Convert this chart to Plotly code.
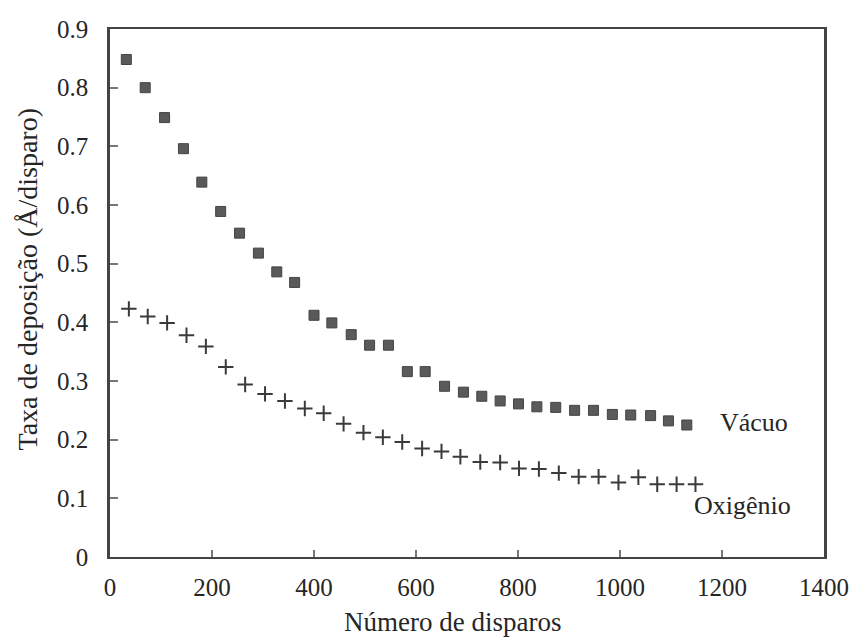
import plotly.graph_objects as go

vacuo_x = [32, 69, 107, 144, 180, 217, 254, 291, 327, 362, 400, 435, 473, 509, 546,
           583, 618, 656, 693, 729, 765, 801, 837, 874, 911, 948, 985, 1021, 1060, 1095, 1131]
vacuo_y = [0.848, 0.800, 0.749, 0.696, 0.639, 0.589, 0.552, 0.518, 0.486, 0.468, 0.412,
           0.399, 0.379, 0.361, 0.361, 0.316, 0.316, 0.291, 0.281, 0.274, 0.266, 0.261,
           0.256, 0.255, 0.250, 0.250, 0.243, 0.242, 0.241, 0.232, 0.225]

oxig_x = [37, 74, 112, 150, 188, 227, 265, 304, 343, 382, 419, 458, 497, 535, 573,
          612, 650, 687, 726, 765, 802, 841, 880, 919, 958, 997, 1036, 1073, 1111, 1148]
oxig_y = [0.423, 0.410, 0.399, 0.378, 0.359, 0.324, 0.294, 0.278, 0.266, 0.253, 0.245,
          0.227, 0.212, 0.204, 0.196, 0.185, 0.180, 0.171, 0.162, 0.161, 0.151, 0.150,
          0.143, 0.137, 0.137, 0.127, 0.136, 0.124, 0.124, 0.124]

x_ticks = [0, 200, 400, 600, 800, 1000, 1200, 1400]
y_ticks = [0, 0.1, 0.2, 0.3, 0.4, 0.5, 0.6, 0.7, 0.8, 0.9]
y_ticktext = ["0", "0.1", "0.2", "0.3", "0.4", "0.5", "0.6", "0.7", "0.8", "0.9"]

FONT = "Liberation Serif"
TXT = "#262626"
AX = "#444444"

fig = go.Figure()
fig.add_trace(go.Scatter(
    x=vacuo_x, y=vacuo_y, mode="markers", name="Vácuo",
    marker=dict(symbol="square", size=10, color="#5a5a5a",
                line=dict(color="#444444", width=1)),
    cliponaxis=False,
))
fig.add_trace(go.Scatter(
    x=oxig_x, y=oxig_y, mode="markers", name="Oxigênio",
    marker=dict(symbol="cross-thin", size=11, color="#333333",
                line=dict(color="#3a3a3a", width=2)),
    cliponaxis=False,
))

W, H = 861, 639
ML, MR, MT, MB = 110, 33, 29, 82
PW, PH = W - ML - MR, H - MT - MB


def px(xp):
    return (xp - ML) / PW


def py(yp):
    return (H - MB - yp) / PH


fig.update_layout(
    width=W, height=H,
    margin=dict(l=ML, r=MR, t=MT, b=MB),
    paper_bgcolor="white", plot_bgcolor="white",
    showlegend=False,
    font=dict(family=FONT, color=TXT, size=25),
    xaxis=dict(
        range=[0, 1400], tickvals=x_ticks, ticktext=[str(v) for v in x_ticks],
        showgrid=False, zeroline=False,
        showline=True, linecolor=AX, linewidth=2, mirror=True,
        ticks="inside", ticklen=7, tickwidth=1.5, tickcolor="#777777",
        tickfont=dict(family=FONT, size=25, color=TXT),
        ticklabelstandoff=7,
    ),
    yaxis=dict(
        range=[0, 0.9], tickvals=y_ticks, ticktext=y_ticktext,
        showgrid=False, zeroline=False,
        showline=True, linecolor=AX, linewidth=2.5, mirror=True,
        ticks="inside", ticklen=8, tickwidth=1.5, tickcolor="#777777",
        tickfont=dict(family=FONT, size=25, color=TXT),
        ticklabelstandoff=14,
    ),
    annotations=[
        dict(text="Número de disparos", xref="paper", yref="paper",
             x=px(454), y=py(622),
             xanchor="center", yanchor="middle", showarrow=False,
             font=dict(family=FONT, size=27, color=TXT)),
        dict(text="Taxa de deposição (Å/disparo)", xref="paper", yref="paper",
             x=px(27), y=py(279),
             xanchor="center", yanchor="middle", textangle=-90, showarrow=False,
             font=dict(family=FONT, size=28, color=TXT)),
        dict(text="Vácuo", xref="paper", yref="paper",
             x=px(721), y=py(422),
             xanchor="left", yanchor="middle", showarrow=False,
             font=dict(family=FONT, size=26, color=TXT)),
        dict(text="Oxigênio", xref="paper", yref="paper",
             x=px(695), y=py(505),
             xanchor="left", yanchor="middle", showarrow=False,
             font=dict(family=FONT, size=26, color=TXT)),
    ],
)

fig.write_html("out.html")
